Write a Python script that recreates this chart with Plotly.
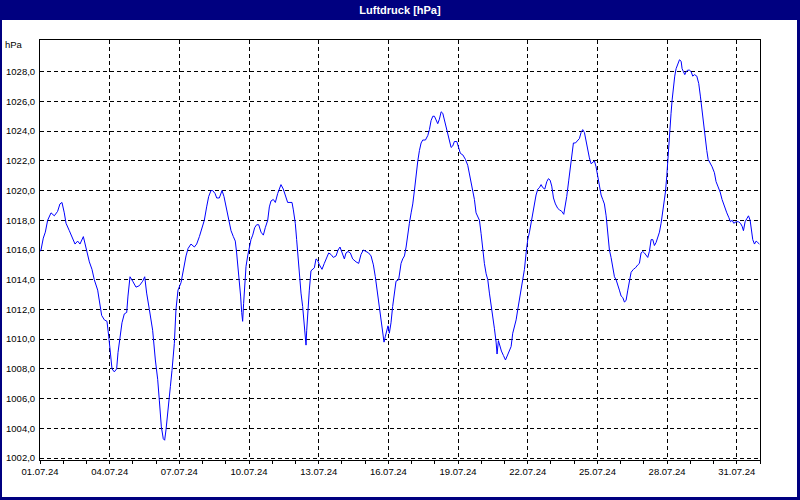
import pandas as pd
import plotly.graph_objects as go

# ---- data: hours since 01.07.2024 00:00 and air pressure [hPa] ----
hours_w1 = [0.0, 1.0, 3.4, 5.5, 7.9, 11.4, 14.8, 18.2, 20.6, 22.7, 25.1, 26.9, 30.3, 33.7, 36.2, 38.9,
            41.3, 44.8, 47.5, 51.0, 53.7, 56.1, 59.6, 62.0, 63.7, 66.5, 69.2, 71.0, 72.7, 74.4, 76.8,
            79.2, 80.6, 82.7, 84.7, 87.1, 89.6, 90.9, 93.0, 95.8, 99.2, 102.7, 106.1, 108.2, 110.2,
            113.0, 116.4, 119.2, 121.6, 123.3, 125.4, 127.4, 128.8, 130.2, 132.6, 134.7, 136.4,
            138.8, 140.5, 142.6, 145.7, 148.1, 150.9, 153.0, 156.0, 159.5, 161.9, 164.7, 167.4,
            169.8, 172.2, 174.3, 176.7, 178.4, 180.9, 182.6]
hpa_w1 = [1015.9, 1016.0, 1016.8, 1017.2, 1018.0, 1018.5, 1018.3, 1018.6, 1019.1, 1019.2, 1018.5,
          1017.8, 1017.3, 1016.7, 1016.4, 1016.6, 1016.4, 1016.9, 1016.1, 1015.2, 1014.7, 1014.0,
          1013.3, 1012.3, 1011.6, 1011.3, 1011.2, 1010.2, 1009.3, 1008.0, 1007.8, 1008.0, 1009.1,
          1010.0, 1011.1, 1011.7, 1011.8, 1012.9, 1014.2, 1013.9, 1013.5, 1013.6, 1013.9, 1014.2,
          1013.1, 1012.0, 1010.6, 1008.6, 1007.3, 1005.9, 1004.1, 1003.3, 1003.2, 1003.9, 1005.7,
          1006.8, 1007.9, 1009.7, 1012.0, 1013.3, 1013.8, 1014.7, 1015.6, 1016.1, 1016.4, 1016.2,
          1016.4, 1016.9, 1017.5, 1018.0, 1018.9, 1019.6, 1020.0, 1020.0, 1019.8, 1019.5]

hours_w2 = [185.3, 188.1, 190.1, 192.2, 195.0, 197.4, 199.8, 201.8, 203.2, 204.6, 206.0, 207.3, 208.4,
            209.4, 210.4, 211.5, 212.9, 214.6, 216.3, 218.0, 219.8, 221.8, 223.9, 226.0, 228.4,
            230.8, 232.8, 235.3, 237.0, 238.7, 241.1, 243.2, 245.6, 247.3, 249.0, 251.4, 253.5,
            255.9, 258.3, 260.4, 261.8, 263.8, 265.2, 266.6, 268.0, 269.7, 271.4, 272.8, 273.8,
            274.9, 275.6, 276.6, 278.3, 280.0, 281.8, 283.5, 285.2, 286.9, 288.7, 291.4, 293.8,
            295.5, 298.3, 300.7, 303.1, 305.9, 308.0, 310.0, 312.1, 314.5, 316.2, 318.3, 320.7,
            323.1, 326.6, 329.3, 331.7, 334.1, 336.9, 339.6, 342.1, 344.5, 346.5, 349.0, 350.7,
            352.4, 354.1, 355.5, 356.9, 358.2, 359.6, 361.0, 362.7, 364.4, 366.2, 367.9, 370.6]
hpa_w2 = [1019.5, 1020.0, 1019.6, 1018.9, 1018.0, 1017.3, 1016.9, 1016.6, 1015.8, 1014.9, 1013.8,
          1012.9, 1011.8, 1011.2, 1012.4, 1013.8, 1014.9, 1015.6, 1016.3, 1016.7, 1017.0, 1017.5,
          1017.7, 1017.7, 1017.2, 1017.0, 1017.5, 1018.0, 1018.9, 1019.3, 1019.4, 1019.2, 1019.8,
          1020.1, 1020.4, 1020.1, 1019.7, 1019.2, 1019.2, 1019.2, 1018.7, 1017.8, 1016.7, 1015.6,
          1014.2, 1013.1, 1012.2, 1011.1, 1010.2, 1009.6, 1010.6, 1012.0, 1013.3, 1014.6, 1014.7,
          1014.8, 1015.4, 1015.3, 1015.0, 1014.7, 1015.1, 1015.4, 1015.8, 1015.7, 1015.5, 1015.6,
          1016.0, 1016.2, 1015.8, 1015.4, 1015.8, 1015.9, 1015.8, 1015.4, 1015.2, 1015.1, 1015.7,
          1016.0, 1015.9, 1015.8, 1015.6, 1015.0, 1014.2, 1012.9, 1012.0, 1011.1, 1010.3, 1009.8,
          1010.2, 1010.5, 1010.9, 1010.4, 1011.1, 1012.2, 1013.3, 1013.9, 1014.0]

hours_w3 = [373.1, 374.8, 376.6, 378.3, 380.0, 381.7, 383.5, 385.2, 386.9, 388.6, 390.4, 392.1, 393.8,
            395.5, 398.3, 400.7, 402.4, 404.1, 405.9, 407.6, 409.3, 411.0, 412.7, 414.5, 416.2,
            417.9, 419.6, 421.4, 423.1, 424.8, 426.5, 428.2, 430.7, 432.7, 434.4, 436.9, 439.6,
            442.0, 443.7, 445.5, 447.2, 448.9, 450.6, 452.4, 454.1, 455.8, 457.5, 459.2, 461.0,
            462.7, 464.4, 466.1, 467.9, 469.6, 471.3, 472.3, 473.7, 475.4, 476.8, 478.9, 481.0,
            482.3, 484.4, 486.8, 488.5, 490.3, 492.0, 493.7, 495.4, 497.1, 498.9, 500.6, 502.3,
            504.0, 505.8, 507.5, 509.2, 510.9, 512.6, 514.4, 516.1, 517.8, 519.5, 521.6, 523.7,
            525.4, 527.1, 528.8, 530.6, 532.6, 535.0, 536.8, 539.2, 541.2, 542.6, 544.3, 546.4,
            547.8, 549.5, 551.2, 553.3, 555.0]
hpa_w3 = [1015.1, 1015.4, 1015.6, 1016.2, 1017.1, 1017.8, 1018.5, 1019.1, 1020.0, 1021.1, 1022.0,
          1022.7, 1023.2, 1023.4, 1023.4, 1023.7, 1024.1, 1024.7, 1025.0, 1025.0, 1024.7, 1024.5,
          1024.8, 1025.3, 1025.2, 1024.7, 1024.2, 1023.8, 1023.4, 1022.9, 1023.0, 1023.3, 1023.3,
          1022.8, 1022.5, 1022.4, 1022.1, 1021.7, 1021.1, 1020.6, 1020.0, 1019.4, 1018.5, 1018.2,
          1018.0, 1017.1, 1016.0, 1015.1, 1014.4, 1014.0, 1013.1, 1012.4, 1011.5, 1010.7, 1009.8,
          1009.0, 1009.9, 1009.5, 1009.2, 1008.9, 1008.6, 1008.8, 1009.1, 1009.5, 1010.4, 1010.9,
          1011.3, 1012.0, 1012.7, 1013.3, 1014.0, 1014.7, 1015.8, 1016.7, 1017.2, 1017.8, 1018.5,
          1019.2, 1019.7, 1020.1, 1020.2, 1020.4, 1020.2, 1020.1, 1020.6, 1020.8, 1020.7, 1020.3,
          1019.5, 1019.1, 1018.8, 1018.7, 1018.6, 1018.4, 1018.9, 1019.6, 1020.7, 1021.4, 1022.3,
          1023.2, 1023.2, 1023.3]

hours_w4 = [557.4, 559.1, 560.8, 562.6, 564.3, 566.0, 567.7, 569.5, 571.2, 572.9, 574.6, 576.3, 578.1,
            579.8, 581.5, 583.2, 585.0, 586.7, 588.4, 590.1, 591.9, 593.6, 595.3, 597.0, 598.7,
            600.5, 602.2, 603.9, 605.6, 607.4, 609.1, 610.8, 613.2, 615.3, 617.7, 619.4, 621.1,
            622.9, 624.6, 626.3, 628.0, 629.7, 631.5, 633.2, 634.9, 636.6, 638.4, 640.1, 641.8,
            643.5, 645.2, 646.3, 647.7, 648.7, 649.7, 650.8, 652.1, 653.2, 654.5, 655.9, 657.3,
            659.0, 660.8, 662.5, 663.5, 664.9, 666.3, 667.6, 669.4, 671.1, 672.8, 674.5, 676.3,
            678.7, 680.7, 682.5, 684.2, 685.6, 687.3, 689.0, 690.4, 692.4, 694.5, 696.9, 698.6,
            700.4, 702.8, 704.8, 707.3, 709.7, 711.7, 713.5, 715.2, 716.9, 719.3, 721.7, 723.8,
            725.5, 726.9, 728.6, 730.3, 732.1, 733.8, 735.2, 736.5, 738.3, 740.0, 741.7, 743.4]
hpa_w4 = [1023.5, 1023.9, 1024.1, 1023.9, 1023.3, 1022.7, 1022.2, 1021.8, 1021.9, 1022.0, 1021.6,
          1021.0, 1020.3, 1019.7, 1019.4, 1019.1, 1018.3, 1017.2, 1016.0, 1015.5, 1014.8, 1014.2,
          1014.0, 1013.7, 1013.3, 1012.9, 1012.8, 1012.5, 1012.6, 1013.3, 1014.0, 1014.5, 1014.7,
          1014.8, 1015.0, 1015.1, 1015.8, 1015.9, 1015.8, 1015.6, 1015.5, 1015.9, 1016.7, 1016.7,
          1016.3, 1016.5, 1016.8, 1017.2, 1017.8, 1018.5, 1019.4, 1019.9, 1021.0, 1022.1, 1023.0,
          1024.0, 1025.2, 1026.1, 1027.0, 1027.7, 1028.2, 1028.5, 1028.8, 1028.7, 1028.2, 1028.0,
          1027.8, 1028.0, 1028.1, 1028.1, 1028.0, 1027.7, 1027.8, 1027.7, 1027.2, 1026.3, 1025.3,
          1024.3, 1023.4, 1022.7, 1022.1, 1021.9, 1021.6, 1021.2, 1020.6, 1020.3, 1019.9, 1019.4,
          1018.9, 1018.5, 1018.2, 1017.9, 1018.0, 1017.8, 1017.9, 1017.9, 1017.8, 1017.6, 1017.3,
          1017.9, 1018.1, 1018.3, 1018.0, 1017.3, 1016.7, 1016.4, 1016.6, 1016.5, 1016.4]

x_tick_labels = ["01.07.24", "04.07.24", "07.07.24", "10.07.24", "13.07.24", "16.07.24",
                 "19.07.24", "22.07.24", "25.07.24", "28.07.24", "31.07.24"]
y_tick_values = [1002, 1004, 1006, 1008, 1010, 1012, 1014, 1016, 1018, 1020, 1022, 1024, 1026, 1028]

# ---- build ----
start = pd.Timestamp("2024-07-01 00:00")
hours = hours_w1 + hours_w2 + hours_w3 + hours_w4
hpa = hpa_w1 + hpa_w2 + hpa_w3 + hpa_w4
times = [start + pd.Timedelta(hours=h) for h in hours]
x_tick_vals = [pd.to_datetime(s, format="%d.%m.%y") for s in x_tick_labels]

NAVY = "#000080"
FONT = "Liberation Sans"

fig = go.Figure()
fig.add_trace(go.Scatter(x=times, y=hpa, mode="lines",
                         line=dict(color="#0000ff", width=1), hoverinfo="skip",
                         showlegend=False))

W, H = 800, 500
L, R, T, B = 40, 40, 40, 40
pw, ph = W - L - R, H - T - B


def px_x(px):
    return (px - L) / pw


def px_y(py):
    return (H - B - py) / ph


fig.update_layout(
    width=W, height=H,
    margin=dict(l=L, r=R, t=T, b=B, pad=0),
    paper_bgcolor=NAVY,
    plot_bgcolor="white",
    separators=",.",
    showlegend=False,
    font=dict(family=FONT, size=10, color="black"),
    title=dict(text="Luftdruck [hPa]", x=0.5, xref="container", xanchor="center",
               y=1 - 10 / H, yref="container", yanchor="middle",
               font=dict(family=FONT, size=11, color="white", weight="bold")),
    shapes=[dict(type="rect", xref="paper", yref="paper", layer="below",
                 x0=px_x(2), x1=px_x(797), y0=px_y(497), y1=px_y(20),
                 fillcolor="white", line=dict(width=0))],
    annotations=[dict(text="hPa", xref="paper", yref="paper", x=px_x(25), y=px_y(45),
                      xanchor="right", yanchor="middle", showarrow=False,
                      font=dict(family=FONT, size=9.5, color="black"))],
)

fig.update_xaxes(
    type="date",
    range=[start, start + pd.Timedelta(days=31)],
    tickvals=x_tick_vals, ticktext=x_tick_labels,
    ticks="outside", ticklen=3, tickcolor="black", tickwidth=1,
    tickfont=dict(family=FONT, size=9.5, color="black"),
    showgrid=True, gridcolor="black", gridwidth=1, griddash="4px,3px",
    minor=dict(dtick=86400000, tick0="2024-07-01", ticks="outside", ticklen=3,
               tickcolor="black", tickwidth=1, showgrid=False),
    showline=True, linecolor="black", linewidth=1, mirror=True,
    zeroline=False, automargin=False, fixedrange=True,
)
fig.update_yaxes(
    range=[1001.87, 1030.13],
    tickvals=y_tick_values, tickformat=".1f",
    ticks="outside", ticklen=2, tickcolor="rgba(0,0,0,0)",
    tickfont=dict(family=FONT, size=9.5, color="black"),
    showgrid=True, gridcolor="black", gridwidth=1, griddash="4px,3px",
    showline=True, linecolor="black", linewidth=1, mirror=True,
    zeroline=False, automargin=False, fixedrange=True,
)

fig.write_html("out.html", config={"displayModeBar": False},
               post_script="document.body.style.margin='0';document.body.style.padding='0';"
                           "document.body.style.overflow='hidden';")
